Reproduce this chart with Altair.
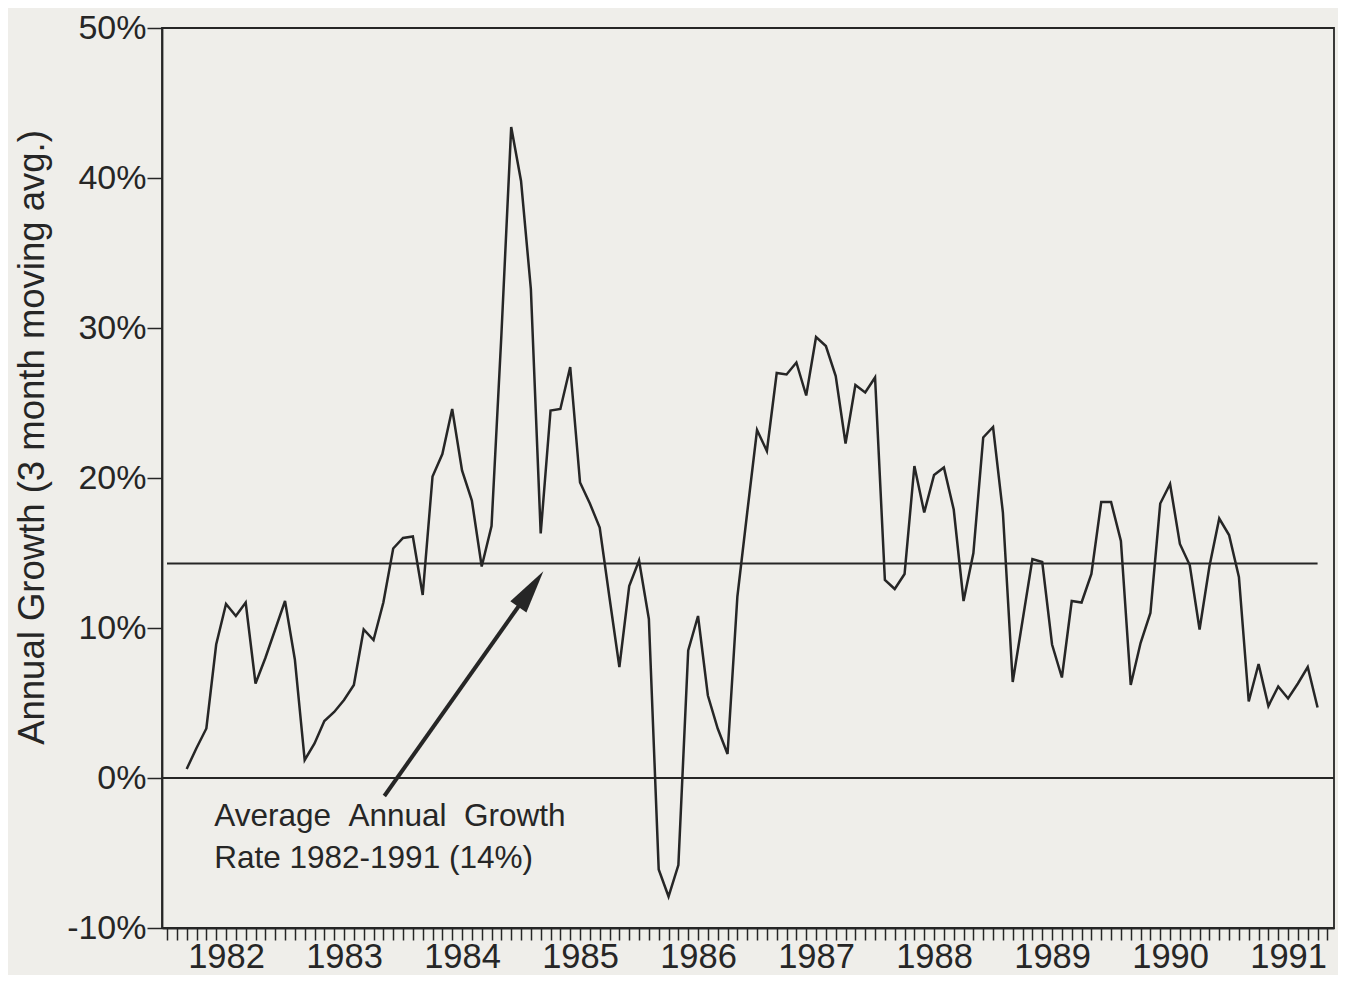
import altair as alt
import pandas as pd

# Months are counted from January 1982 (= 0); the series starts in March 1982.
first_month = 2

# Annual growth (%), 3-month moving average, read month by month
g1982 = [0.6, 2.0, 3.3, 8.9, 11.6, 10.8, 11.7, 6.3, 8.0, 9.9]            # Mar-Dec
g1983 = [11.8, 7.9, 1.2, 2.3, 3.8, 4.4, 5.2, 6.2, 9.9, 9.2, 11.7, 15.3]
g1984 = [16.0, 16.1, 12.2, 20.1, 21.6, 24.6, 20.5, 18.5, 14.1, 16.8, 29.5, 43.4]
g1985 = [39.8, 32.6, 16.3, 24.5, 24.6, 27.4, 19.7, 18.3, 16.7, 12.0, 7.4, 12.8]
g1986 = [14.5, 10.6, -6.1, -7.9, -5.8, 8.5, 10.8, 5.5, 3.3, 1.6, 12.1, 17.7]
g1987 = [23.2, 21.8, 27.0, 26.9, 27.7, 25.5, 29.4, 28.8, 26.8, 22.3, 26.2, 25.7]
g1988 = [26.7, 13.2, 12.6, 13.6, 20.8, 17.7, 20.2, 20.7, 17.9, 11.8, 15.0, 22.7]
g1989 = [23.4, 17.7, 6.4, 10.5, 14.6, 14.4, 8.9, 6.7, 11.8, 11.7, 13.6, 18.4]
g1990 = [18.4, 15.8, 6.2, 9.0, 11.0, 18.3, 19.6, 15.6, 14.2, 9.9, 14.1, 17.3]
g1991 = [16.2, 13.4, 5.1, 7.6, 4.8, 6.1, 5.3, 6.3, 7.4, 4.7]               # Jan-Oct

growth = g1982 + g1983 + g1984 + g1985 + g1986 + g1987 + g1988 + g1989 + g1990 + g1991
months = list(range(first_month, first_month + len(growth)))

first_year = 1982
average_rate = 14.3
annotation_lines = ["Average\u00a0\u00a0Annual\u00a0\u00a0Growth", "Rate 1982-1991 (14%)"]
annotation_x = [4.8, 4.8]
annotation_y = [-3.2, -6.0]

arrow_start = (22.1, -1.2)
arrow_head = (37.0, 12.6)
arrow_angle = 35

series = pd.DataFrame({"m": months, "growth": growth})
avg_df = pd.DataFrame({"m": [months[0] - 2], "m2": [months[-1]], "growth": [average_rate]})
zero_df = pd.DataFrame({"growth": [0]})
text_df = pd.DataFrame({"m": annotation_x, "growth": annotation_y, "label": annotation_lines})
arrow_df = pd.DataFrame({"m": [arrow_start[0]], "growth": [arrow_start[1]],
                         "m2": [arrow_head[0]], "growth2": [arrow_head[1]]})
head_df = pd.DataFrame({"m": [arrow_head[0]], "growth": [arrow_head[1]]})

FONT = "Liberation Sans"
INK = "#262626"

x_scale = alt.Scale(domain=[-0.51, 118.67], nice=False, zero=False)
y_scale = alt.Scale(domain=[-10, 50], nice=False, zero=False)

x_axis = alt.Axis(
    values=list(range(0, 119)),
    labelExpr=f"datum.value % 12 == 6 ? toString({first_year} + floor(datum.value / 12)) : ''",
    tickSize=12, tickWidth=1.5, tickColor=INK,
    domainColor=INK, domainWidth=1.8,
    labelFont=FONT, labelFontSize=34.5, labelColor=INK, labelPadding=0,
    labelOverlap=False, labelFlush=False, labelBound=False,
    grid=False, title=None,
)
y_axis = alt.Axis(
    values=[-10, 0, 10, 20, 30, 40, 50],
    labelExpr="toString(datum.value) + '%'",
    tickSize=15, tickWidth=1.5, tickColor=INK,
    domainColor=INK, domainWidth=1.8,
    labelFont=FONT, labelFontSize=34, labelColor=INK, labelPadding=1,
    labelOverlap=False, labelFlush=False, labelBound=False,
    grid=False,
    title="Annual Growth (3 month moving avg.)",
    titleFont=FONT, titleFontSize=36.5, titleFontWeight="normal", titleColor=INK,
    titleX=-130, titleY=409, titleAngle=-90, titleAlign="center", titleBaseline="middle",
)

X = alt.X("m:Q", scale=x_scale, axis=x_axis)
Y = alt.Y("growth:Q", scale=y_scale, axis=y_axis)

zero_rule = alt.Chart(zero_df).mark_rule(color=INK, strokeWidth=1.8).encode(y=Y)
avg_rule = alt.Chart(avg_df).mark_rule(color=INK, strokeWidth=1.8).encode(
    x=X, x2=alt.X2("m2:Q"), y=Y)
line = alt.Chart(series).mark_line(color=INK, strokeWidth=2.5, strokeJoin="miter").encode(x=X, y=Y)
arrow = alt.Chart(arrow_df).mark_rule(color=INK, strokeWidth=4).encode(
    x=X, x2=alt.X2("m2:Q"), y=Y, y2=alt.Y2("growth2:Q"))
head = alt.Chart(head_df).mark_point(
    shape="M0,-1L0.45,1L-0.45,1Z", size=1900, filled=True, opacity=1,
    color=INK, angle=arrow_angle, strokeWidth=0).encode(x=X, y=Y)
text = alt.Chart(text_df).mark_text(
    align="left", baseline="alphabetic", font=FONT, fontSize=31.5, color=INK).encode(
    x=X, y=Y, text="label:N")

chart = alt.layer(zero_rule, avg_rule, line, arrow, head, text).properties(
    width=1172, height=900,
    autosize=alt.AutoSizeParams(type="none"),
    padding={"left": 154, "top": 20, "right": 4, "bottom": 47},
    background="#efeeea",
).configure_view(stroke=INK, strokeWidth=1.8)

chart.save("out.html", embed_options={"renderer": "svg", "actions": False})
